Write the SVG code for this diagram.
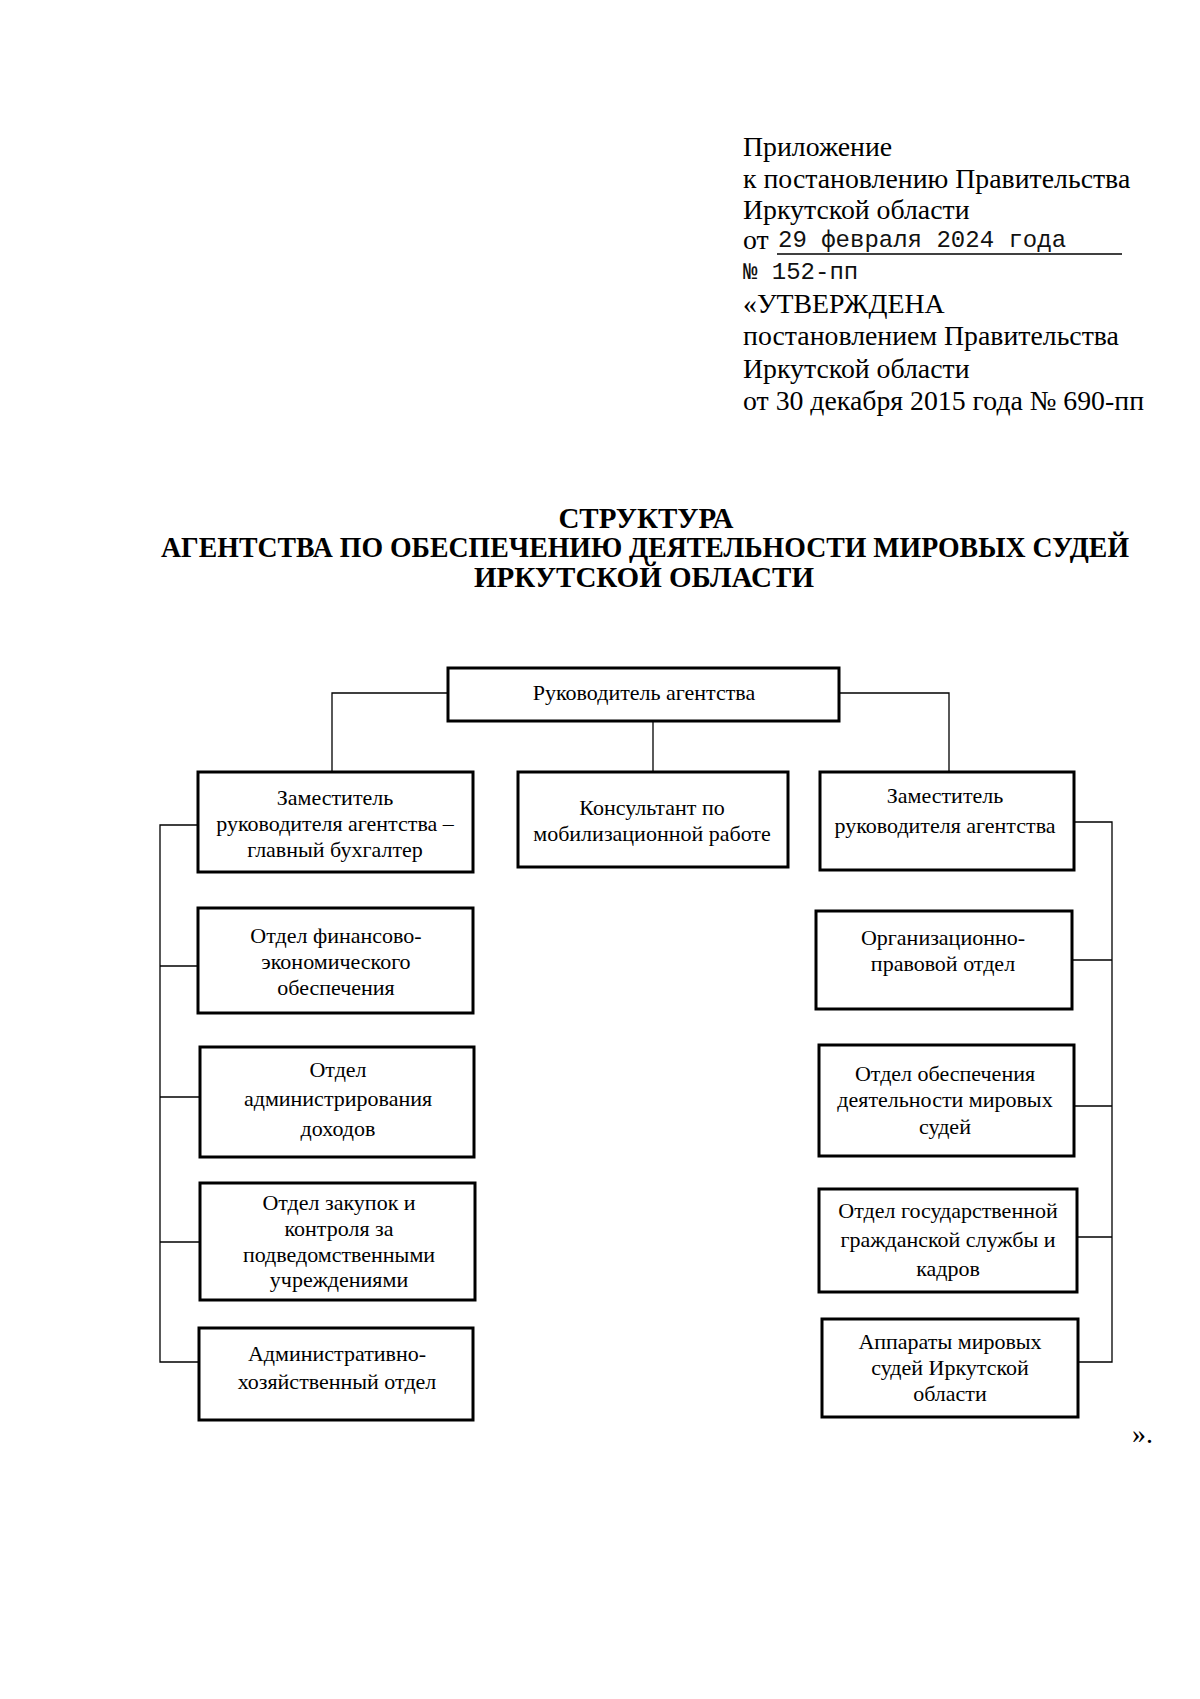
<svg xmlns="http://www.w3.org/2000/svg" width="1200" height="1699" viewBox="0 0 1200 1699">
<style>
.hd{font-family:"Liberation Serif","Times New Roman",serif;font-size:27.8px;fill:#000}
.mono{font-family:"Liberation Mono","Courier New",monospace;font-size:24px;fill:#111}
.ttl{font-family:"Liberation Serif","Times New Roman",serif;font-size:29px;font-weight:bold;fill:#000;text-anchor:middle}
.bx{fill:#fff;stroke:#000;stroke-width:3}
.tx{font-family:"Liberation Serif","Times New Roman",serif;font-size:22px;fill:#000;text-anchor:middle}
.cn{fill:none;stroke:#000;stroke-width:1.3}
</style>
<rect width="1200" height="1699" fill="#fff"/>
<g id="header">
<text class="hd" x="743" y="156">Приложение</text>
<text class="hd" x="743" y="188">к постановлению Правительства</text>
<text class="hd" x="743" y="219">Иркутской области</text>
<text class="hd" x="743" y="249">от</text>
<text class="mono" x="778" y="247">29 февраля 2024 года</text>
<line x1="777" y1="254" x2="1122" y2="254" stroke="#000" stroke-width="1.5"/>
<text class="mono" x="743" y="279">№ 152-пп</text>
<text class="hd" x="743" y="313">«УТВЕРЖДЕНА</text>
<text class="hd" x="743" y="345">постановлением Правительства</text>
<text class="hd" x="743" y="378">Иркутской области</text>
<text class="hd" x="743" y="410">от 30 декабря 2015 года № 690-пп</text>
</g>
<g id="title">
<text class="ttl" x="646" y="528">СТРУКТУРА</text>
<text class="ttl" x="645" y="557" textLength="968" lengthAdjust="spacingAndGlyphs">АГЕНТСТВА ПО ОБЕСПЕЧЕНИЮ ДЕЯТЕЛЬНОСТИ МИРОВЫХ СУДЕЙ</text>
<text class="ttl" x="644" y="587">ИРКУТСКОЙ ОБЛАСТИ</text>
</g>
<g id="connectors">
<polyline class="cn" points="448,693 332,693 332,772"/>
<polyline class="cn" points="839,693 949,693 949,772"/>
<line class="cn" x1="653" y1="721" x2="653" y2="772"/>
<polyline class="cn" points="198,825 160,825 160,1362 199,1362"/>
<line class="cn" x1="160" y1="966" x2="198" y2="966"/>
<line class="cn" x1="160" y1="1097" x2="200" y2="1097"/>
<line class="cn" x1="160" y1="1242" x2="200" y2="1242"/>
<polyline class="cn" points="1074,822 1112,822 1112,1362 1078,1362"/>
<line class="cn" x1="1072" y1="960" x2="1112" y2="960"/>
<line class="cn" x1="1074" y1="1106" x2="1112" y2="1106"/>
<line class="cn" x1="1077" y1="1237" x2="1112" y2="1237"/>
</g>
<g id="n-head">
<rect class="bx" x="448" y="668" width="391" height="53"/>
<text class="tx" x="644" y="700">Руководитель агентства</text>
</g>
<g id="n-dep-left">
<rect class="bx" x="198" y="772" width="275" height="100"/>
<text class="tx" x="335" y="805">Заместитель</text>
<text class="tx" x="335" y="831">руководителя агентства –</text>
<text class="tx" x="335" y="857">главный бухгалтер</text>
</g>
<g id="n-consult">
<rect class="bx" x="518" y="772" width="270" height="95"/>
<text class="tx" x="652" y="815">Консультант по</text>
<text class="tx" x="652" y="841">мобилизационной работе</text>
</g>
<g id="n-dep-right">
<rect class="bx" x="820" y="772" width="254" height="98"/>
<text class="tx" x="945" y="803">Заместитель</text>
<text class="tx" x="945" y="833">руководителя агентства</text>
</g>
<g id="n-fin">
<rect class="bx" x="198" y="908" width="275" height="105"/>
<text class="tx" x="336" y="943">Отдел финансово-</text>
<text class="tx" x="336" y="969">экономического</text>
<text class="tx" x="336" y="995">обеспечения</text>
</g>
<g id="n-adm">
<rect class="bx" x="200" y="1047" width="274" height="110"/>
<text class="tx" x="338" y="1077">Отдел</text>
<text class="tx" x="338" y="1106">администрирования</text>
<text class="tx" x="338" y="1136">доходов</text>
</g>
<g id="n-zak">
<rect class="bx" x="200" y="1183" width="275" height="117"/>
<text class="tx" x="339" y="1210">Отдел закупок и</text>
<text class="tx" x="339" y="1236">контроля за</text>
<text class="tx" x="339" y="1262">подведомственными</text>
<text class="tx" x="339" y="1287">учреждениями</text>
</g>
<g id="n-ahd">
<rect class="bx" x="199" y="1328" width="274" height="92"/>
<text class="tx" x="337" y="1361">Административно-</text>
<text class="tx" x="337" y="1389">хозяйственный отдел</text>
</g>
<g id="n-org">
<rect class="bx" x="816" y="911" width="256" height="98"/>
<text class="tx" x="943" y="945">Организационно-</text>
<text class="tx" x="943" y="971">правовой отдел</text>
</g>
<g id="n-obesp">
<rect class="bx" x="819" y="1045" width="255" height="111"/>
<text class="tx" x="945" y="1081">Отдел обеспечения</text>
<text class="tx" x="945" y="1107">деятельности мировых</text>
<text class="tx" x="945" y="1134">судей</text>
</g>
<g id="n-kadr">
<rect class="bx" x="819" y="1189" width="258" height="103"/>
<text class="tx" x="948" y="1218">Отдел государственной</text>
<text class="tx" x="948" y="1247">гражданской службы и</text>
<text class="tx" x="948" y="1276">кадров</text>
</g>
<g id="n-appar">
<rect class="bx" x="822" y="1319" width="256" height="98"/>
<text class="tx" x="950" y="1349">Аппараты мировых</text>
<text class="tx" x="950" y="1375">судей Иркутской</text>
<text class="tx" x="950" y="1401">области</text>
</g>
<text class="hd" x="1132" y="1443">».</text>
</svg>
